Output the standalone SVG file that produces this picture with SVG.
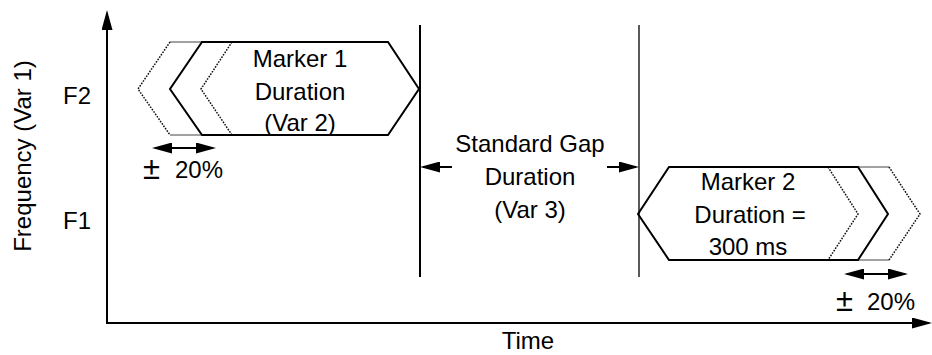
<svg xmlns="http://www.w3.org/2000/svg" width="932" height="355" viewBox="0 0 932 355">
  <style>
    text { font-family: "Liberation Sans", Arial, Helvetica, sans-serif; font-size: 24px; fill: #000; }
    .mid { text-anchor: middle; }
    .pm { font-size: 31px; }
    .outline { fill: none; stroke: #000; stroke-width: 2; stroke-linejoin: miter; }
    .ghost { fill: none; stroke: #111; stroke-width: 1.5; stroke-dasharray: 1.6 1.3; }
    .edge { fill: none; stroke: #444; stroke-width: 1; }
    .axis { stroke: #000; stroke-width: 2; fill: none; }
    .arrow { stroke: #000; stroke-width: 2; fill: none; marker-end: url(#head); }
    .both { stroke: #000; stroke-width: 2; fill: none; marker-start: url(#head); marker-end: url(#head); }
  </style>
  <defs>
    <marker id="head" viewBox="0 0 20 11" markerWidth="20" markerHeight="11" refX="17" refY="5.5" markerUnits="userSpaceOnUse" orient="auto-start-reverse">
      <path d="M0,0 L20,5.5 L0,11 z" fill="#000"/>
    </marker>
  </defs>

  <!-- frequency / time axes -->
  <g id="axes">
    <polyline class="axis" points="107,13 107,323 929,323" style="marker-start:url(#head);marker-end:url(#head)"/>
    <text transform="translate(31,156) rotate(-90)" class="mid">Frequency (Var 1)</text>
    <text x="528" y="349" class="mid">Time</text>
    <text x="63" y="104">F2</text>
    <text x="63" y="229">F1</text>
  </g>

  <!-- first marker tone at F2 -->
  <g id="marker1">
    <line class="edge" x1="170" y1="42" x2="202" y2="42"/>
    <line class="edge" x1="170" y1="135" x2="202" y2="135"/>
    <polyline class="ghost" points="170,42 138,89 170,135"/>
    <polyline class="ghost" points="232,42 201,89 232,135"/>
    <polygon class="outline" points="202,42 388,42 419,89 388,135 202,135 170,89"/>
    <text x="300" y="67" class="mid">Marker 1</text>
    <text x="300" y="100" class="mid">Duration</text>
    <text x="300" y="131" class="mid">(Var 2)</text>
    <text y="179"><tspan x="143" class="pm">±</tspan> <tspan x="175" y="178">20%</tspan></text>
  </g>

  <!-- gap between the two markers -->
  <g id="gap">
    <line x1="420" y1="25" x2="420" y2="277" stroke="#000" stroke-width="2"/>
    <line x1="639" y1="25" x2="639" y2="277" stroke="#000" stroke-width="1.3"/>
    <text x="530" y="152" class="mid">Standard Gap</text>
    <text x="530" y="185" class="mid">Duration</text>
    <text x="530" y="218" class="mid">(Var 3)</text>
  </g>

  <!-- second marker tone at F1 -->
  <g id="marker2">
    <line class="edge" x1="858" y1="167" x2="889" y2="167"/>
    <line class="edge" x1="858" y1="260" x2="889" y2="260"/>
    <polyline class="ghost" points="828,167 858,214 828,260"/>
    <polyline class="ghost" points="889,167 920,214 889,260"/>
    <polygon class="outline" points="669,167 858,167 888,214 858,260 669,260 638,214"/>
    <text x="748" y="190" class="mid">Marker 2</text>
    <text x="750" y="223" class="mid">Duration =</text>
    <text x="748" y="255" class="mid">300 ms</text>
    <text y="311"><tspan x="836" class="pm">±</tspan> <tspan x="867" y="310">20%</tspan></text>
  </g>

  <!-- dimension arrows -->
  <g id="connectors">
    <line class="both" x1="155" y1="148" x2="213" y2="148"/>
    <line class="both" x1="847" y1="274" x2="905" y2="274"/>
    <line class="arrow" x1="452" y1="167" x2="423" y2="167"/>
    <line class="arrow" x1="607" y1="167" x2="636" y2="167"/>
  </g>
</svg>
